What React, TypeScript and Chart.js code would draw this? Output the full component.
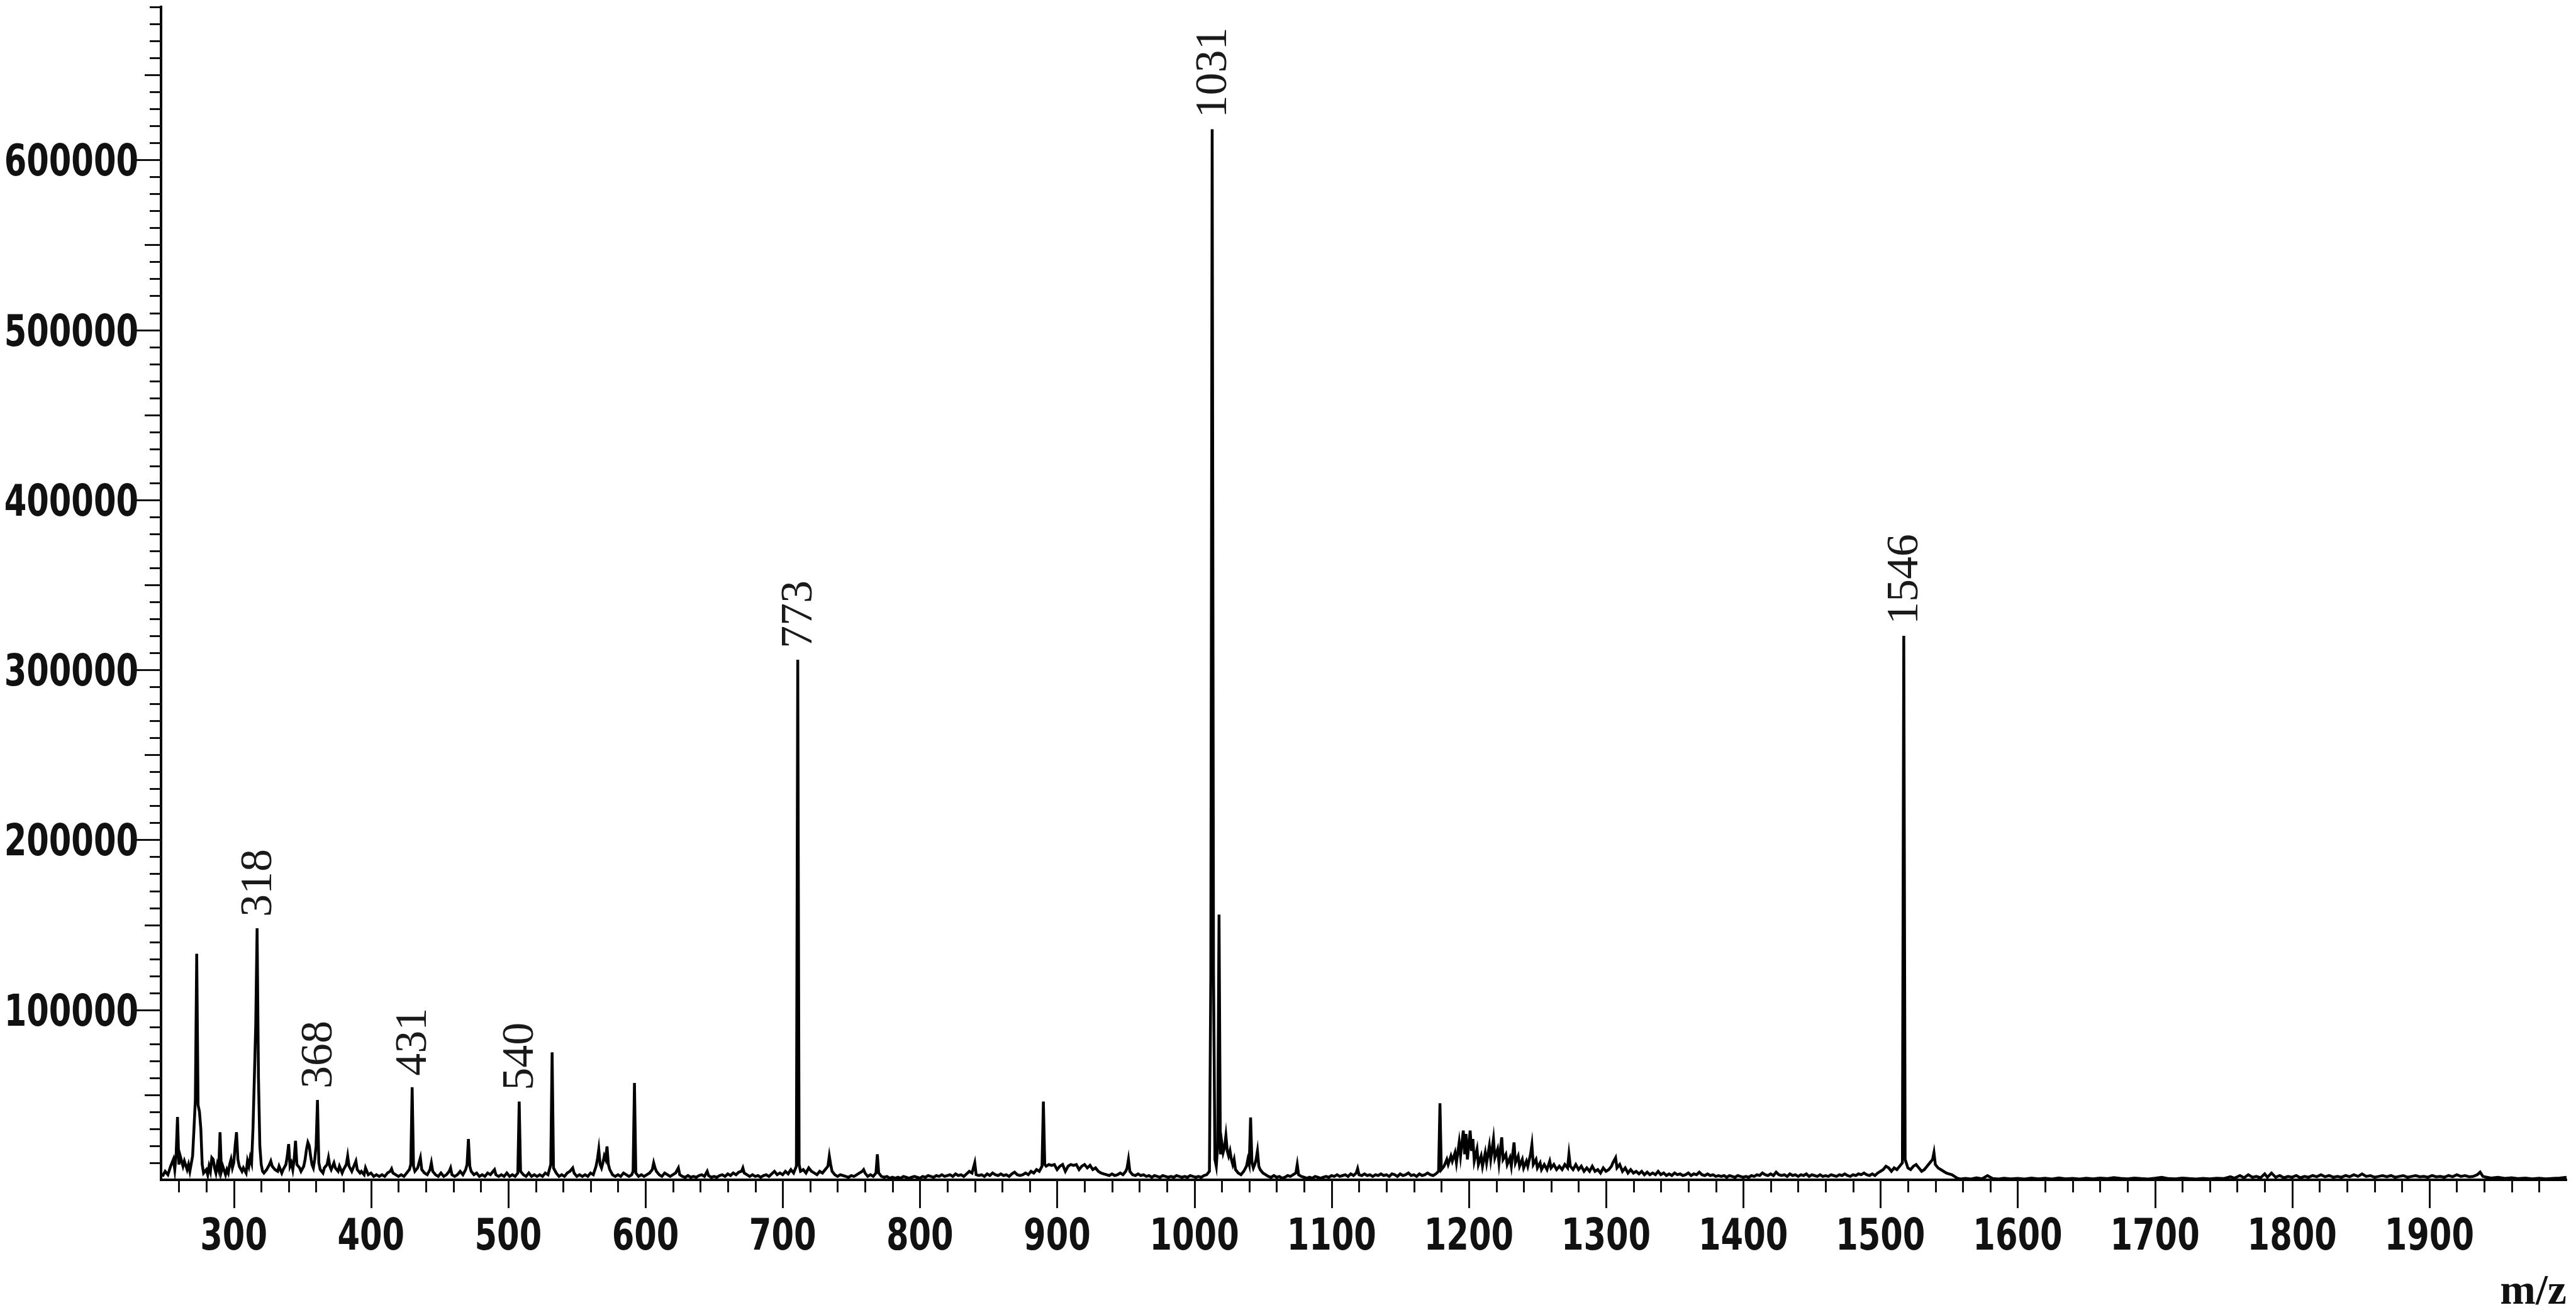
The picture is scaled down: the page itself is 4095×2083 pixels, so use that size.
import React, { useEffect, useRef } from 'react';
import { Chart, registerables } from 'chart.js';

Chart.register(...registerables);

// ---- axis ranges and tick labels ----
const xMin = 247;
const xMax = 2000;
const yMin = 0;
const yMax = 690000;
const xTickValues = [300, 400, 500, 600, 700, 800, 900, 1000, 1100, 1200, 1300, 1400, 1500, 1600, 1700, 1800, 1900];
const yTickValues = [100000, 200000, 300000, 400000, 500000, 600000];
const xMinorStep = 20;
const yMinorStep = 10000;
const axisTitle = 'm/z';

// ---- annotated peaks ----
const peakLabelText = ['318', '368', '431', '540', '773', '1031', '1546'];
const peakLabelMz = [317, 361, 430, 508, 711, 1013, 1517];
const peakLabelIntensity = [148000, 47000, 54500, 46000, 306000, 618000, 320000];

// ---- spectrum (m/z, intensity) ----
const spectrumLow: [number, number][] = [
  [248, 2000], [250, 5000], [252, 3000], [254, 8000], [256, 12000], [257, 6000], [258, 15000], [259, 37000], [260, 9000],
  [261, 14000], [263, 8000], [264, 11000], [266, 6000], [267, 9000], [268, 5000], [270, 14000], [271, 30000], [272, 47000],
  [273, 133000], [274, 44000], [275, 40000], [276, 30000], [277, 9000], [278, 4000], [280, 6000], [281, 3000], [282, 8000],
  [283, 5000], [284, 13000], [285, 12000], [286, 7000], [287, 4000], [288, 9000], [289, 6000], [290, 28000], [291, 5000],
  [292, 8000], [294, 3000], [295, 6000], [296, 4000], [297, 9000], [298, 12000], [299, 7000], [300, 10000], [301, 20000],
  [302, 28000], [303, 12000], [304, 8000], [306, 5000], [307, 7000], [309, 4000], [310, 11000], [311, 8000], [312, 13000],
  [313, 10000], [314, 30000], [315, 60000], [316, 91000], [317, 148000], [318, 60000], [319, 20000], [320, 9000], [321, 5000],
  [322, 4000], [324, 6000], [326, 9000], [327, 11000], [328, 8000], [330, 6000], [332, 5000], [333, 8000], [335, 4000],
  [336, 6000], [338, 9000], [339, 14000], [340, 21000], [341, 8000], [342, 10000], [343, 6000], [344, 12000], [345, 23000],
  [346, 9000], [348, 7000], [349, 5000], [351, 8000], [352, 12000], [353, 18000], [354, 22000], [355, 20000], [356, 14000],
  [357, 9000], [358, 7000], [359, 12000], [360, 20000], [361, 47000], [362, 10000], [363, 6000], [365, 4000], [366, 7000],
  [368, 9000], [369, 13000], [370, 8000], [371, 6000], [373, 10000], [374, 7000], [376, 5000], [377, 8000], [379, 4000],
  [380, 6000], [382, 9000], [383, 14000], [384, 8000], [386, 5000], [387, 7000], [389, 11000], [390, 6000], [392, 4000],
  [393, 5000], [395, 3000], [396, 7000], [398, 3000], [400, 4000], [402, 2000], [404, 3000], [406, 2000], [408, 3000],
  [410, 2000], [412, 4000], [414, 5000], [415, 6500], [416, 4000], [418, 3000], [420, 2000], [422, 3000], [424, 2000],
  [426, 4000], [428, 6000], [429, 9000], [430, 54500], [431, 8000], [432, 5000], [434, 7000], [436, 13000], [437, 6000],
  [439, 4000], [441, 3000], [443, 6000], [444, 10000], [445, 5000], [447, 3000], [449, 2000], [451, 4000], [453, 2000],
  [455, 3000], [457, 5000], [458, 7000], [459, 3000],
];

const spectrumMidLow: [number, number][] = [
  [461, 2000], [463, 3000], [465, 5000], [467, 3000], [469, 6000], [470, 9000], [471, 24000], [472, 8000], [473, 5000],
  [475, 3000], [477, 4000], [479, 2000], [481, 3000], [483, 2000], [485, 4000], [487, 3000], [489, 5000], [490, 6000],
  [491, 3000], [493, 2000], [495, 3000], [497, 2000], [499, 4000], [501, 2000], [503, 3000], [505, 2000], [507, 4000],
  [508, 46000], [509, 5000], [511, 3000], [513, 2000], [515, 4000], [517, 2000], [519, 3000], [521, 2000], [523, 3000],
  [525, 2000], [527, 4000], [529, 3000], [531, 9000], [532, 75000], [533, 7000], [535, 4000], [537, 2000], [539, 3000],
  [541, 2000], [543, 4000], [545, 5000], [547, 7000], [548, 4000], [550, 2000], [552, 3000], [554, 2000], [556, 3000],
  [558, 2000], [560, 4000], [562, 3000], [564, 8000], [565, 12000], [566, 18000], [567, 9000], [568, 7000], [569, 10000],
  [570, 14000], [571, 12000], [572, 19600], [573, 9000], [574, 6000], [576, 3000], [578, 2000], [580, 3000], [582, 2000],
  [584, 4000], [586, 3000], [588, 2000], [590, 3000], [591, 5000], [592, 57000], [593, 4000], [595, 2000], [597, 3000],
  [599, 2000], [601, 3000], [603, 4000], [605, 6000], [606, 10000], [607, 7000], [608, 5000], [610, 3000], [612, 2000],
  [614, 4000], [616, 3000], [618, 2000], [620, 3000], [622, 4000], [624, 7000], [625, 3000], [627, 2000], [629, 1500],
  [631, 2500], [633, 1500], [635, 2000], [637, 1500], [639, 2500], [641, 3000], [643, 2000], [645, 5000], [646, 2500],
  [648, 1500], [650, 2000], [652, 1500], [654, 2500], [656, 3000], [658, 2000], [660, 3500], [662, 2500], [664, 4000],
  [666, 3000], [668, 4500], [670, 5000], [671, 7000], [672, 4000], [674, 3000], [676, 2000], [678, 3000], [680, 2000],
  [682, 2500], [684, 1500], [686, 2500], [688, 3000], [690, 2000], [692, 3500], [694, 5000], [696, 3000], [698, 4000],
  [700, 3000], [702, 5000], [704, 3500], [706, 6000], [708, 4000],
];

const spectrumMid: [number, number][] = [
  [710, 8000], [711, 306000], [712, 9000], [713, 5000], [715, 6000], [717, 4000], [719, 7000], [721, 5000], [723, 4000],
  [725, 3000], [727, 5000], [729, 4000], [731, 6000], [733, 8000], [734, 14000], [735, 9000], [736, 5000], [738, 3000],
  [740, 2000], [742, 3000], [744, 2500], [746, 2000], [748, 1500], [750, 2500], [752, 2000], [754, 3000], [756, 4000],
  [758, 5000], [759, 6000], [760, 4000], [762, 2000], [764, 3000], [766, 2000], [768, 4000], [769, 15000], [770, 4000],
  [772, 2000], [774, 1500], [776, 2000], [778, 1000], [780, 1500], [782, 1000], [784, 1500], [786, 1000], [788, 2000],
  [790, 1500], [792, 1000], [794, 1500], [796, 2000], [798, 1500], [800, 1000], [802, 2000], [804, 1500], [806, 2500],
  [808, 2000], [810, 1500], [812, 2500], [814, 2000], [816, 3000], [818, 2000], [820, 2500], [822, 3000], [824, 2000],
  [826, 3500], [828, 2500], [830, 3000], [832, 2000], [834, 3500], [836, 5000], [838, 4000], [840, 10000], [841, 3000],
  [843, 2500], [845, 3000], [847, 2000], [849, 3500], [851, 2500], [853, 4000], [855, 3000], [857, 2500], [859, 3500],
  [861, 2500], [863, 3000], [865, 2000], [867, 3500], [869, 4500], [871, 3000], [873, 2500], [875, 3000], [877, 4000],
  [879, 3000], [881, 5000], [883, 4000], [885, 6000], [887, 5000], [889, 8000], [890, 46000], [891, 9000], [892, 8000],
  [894, 9000], [896, 8500], [898, 9000], [900, 6000], [902, 8000], [904, 9000], [906, 5000], [908, 8000], [910, 9000],
  [912, 8500], [914, 9000], [916, 6000], [918, 8000], [920, 9000], [922, 7000], [924, 8500], [926, 6000], [928, 7000],
  [930, 5000], [932, 4000], [934, 3500], [936, 3000], [938, 2500], [940, 3500], [942, 2500], [944, 3000], [946, 4000],
  [948, 3000], [950, 5000], [951, 7000], [952, 12000], [953, 5000], [955, 3000], [957, 2500], [959, 3500], [961, 2500],
  [963, 3000], [965, 2000], [967, 2500], [969, 1500], [971, 2500], [973, 2000], [975, 1500], [977, 2500], [979, 2000],
  [981, 1500], [983, 2000], [985, 1500], [987, 2500], [989, 2000], [991, 1500], [993, 2000], [995, 1500], [997, 2500],
  [999, 2000], [1001, 1500], [1003, 2000], [1005, 1500], [1007, 2500], [1009, 3000], [1011, 5000],
];

const spectrumHighMid: [number, number][] = [
  [1012, 120000], [1013, 618000], [1014, 121000], [1015, 12000], [1016, 8000], [1017, 20000], [1018, 156000], [1019, 15000],
  [1020, 22000], [1021, 16000], [1022, 19000], [1023, 26000], [1024, 17000], [1025, 14000], [1026, 17000], [1027, 12000],
  [1028, 9000], [1029, 12000], [1030, 6000], [1032, 4000], [1034, 3000], [1036, 5000], [1038, 8000], [1039, 12000],
  [1040, 9000], [1041, 36700], [1042, 10000], [1043, 7000], [1044, 9000], [1045, 12000], [1046, 17000], [1047, 8000],
  [1048, 6000], [1050, 4000], [1052, 3000], [1054, 2000], [1056, 1500], [1058, 2500], [1060, 1500], [1062, 2000],
  [1064, 1000], [1066, 1500], [1068, 2500], [1070, 2000], [1072, 3000], [1074, 4000], [1075, 9000], [1076, 3000],
  [1078, 2000], [1080, 1500], [1082, 1000], [1084, 1500], [1086, 1000], [1088, 2000], [1090, 1500], [1092, 1000],
  [1094, 1500], [1096, 2000], [1098, 1500], [1100, 2500], [1102, 2000], [1104, 3000], [1106, 2000], [1108, 2500],
  [1110, 3000], [1112, 2000], [1114, 3500], [1116, 2500], [1118, 4000], [1119, 6600], [1120, 3000], [1122, 2500],
  [1124, 3500], [1126, 2500], [1128, 3000], [1130, 2000], [1132, 3000], [1134, 2500], [1136, 3500], [1138, 2500],
  [1140, 3000], [1142, 2000], [1144, 3500], [1146, 3000], [1148, 2000], [1150, 3500], [1152, 2500], [1154, 3000],
  [1156, 4000], [1158, 2500], [1160, 3000], [1162, 2000], [1164, 3500], [1166, 2500], [1168, 3000], [1170, 4000],
  [1172, 3000], [1174, 2500], [1176, 3500], [1178, 5000], [1179, 45000], [1180, 6000], [1182, 8000], [1184, 12000],
  [1185, 9000], [1187, 14000], [1188, 11000], [1190, 16000], [1191, 10000], [1193, 22000], [1194, 14000], [1196, 29000],
  [1197, 15000], [1198, 27000], [1199, 12000], [1201, 29000], [1202, 17000], [1203, 24000], [1204, 11000], [1206, 18000],
  [1207, 9000], [1209, 14000], [1210, 8000], [1212, 16000], [1213, 10000], [1215, 20000], [1216, 12000], [1218, 24000],
  [1219, 13000], [1221, 18000], [1222, 10000], [1224, 25000], [1225, 12000], [1227, 15000], [1228, 9000], [1230, 13000],
  [1231, 8000], [1233, 22000], [1234, 10000], [1236, 14000], [1237, 8000], [1239, 12000], [1240, 7000], [1242, 11000],
  [1243, 8000], [1245, 15000], [1246, 20700], [1247, 9000], [1249, 12000], [1250, 7000], [1252, 10000], [1253, 6000],
  [1255, 9000], [1257, 6000], [1259, 11000], [1260, 7000], [1262, 9000], [1264, 6000], [1266, 8000], [1268, 6000],
  [1270, 9000], [1272, 7000], [1273, 15000], [1274, 8000], [1276, 6000], [1278, 9000], [1280, 6000], [1282, 8000],
  [1284, 5000], [1286, 7000], [1288, 5000], [1290, 8000], [1292, 5000], [1294, 6000], [1296, 4000], [1298, 7000],
  [1300, 5000], [1302, 6000], [1304, 8000], [1305, 10000], [1307, 13000], [1308, 7000], [1310, 9000], [1312, 5000],
  [1314, 7000], [1316, 4000], [1318, 6000], [1320, 4000],
];

const spectrumHigh: [number, number][] = [
  [1322, 5000], [1324, 3500], [1326, 5000], [1328, 3000], [1330, 4500], [1332, 3000], [1334, 4000], [1336, 3000],
  [1338, 5000], [1340, 3000], [1342, 4000], [1344, 2500], [1346, 3500], [1348, 2500], [1350, 4000], [1352, 3000],
  [1354, 3500], [1356, 2500], [1358, 3000], [1360, 4000], [1362, 2500], [1364, 3500], [1366, 3000], [1368, 4500],
  [1370, 3000], [1372, 2500], [1374, 3500], [1376, 2500], [1378, 3000], [1380, 2000], [1382, 2500], [1384, 2000],
  [1386, 2500], [1388, 1500], [1390, 2500], [1392, 2000], [1394, 1500], [1396, 2500], [1398, 2000], [1400, 1500],
  [1402, 2000], [1404, 1500], [1406, 2500], [1408, 2000], [1410, 3000], [1412, 2500], [1414, 4000], [1416, 3000],
  [1418, 2500], [1420, 3500], [1422, 2500], [1424, 4500], [1426, 3000], [1428, 2500], [1430, 3000], [1432, 2000],
  [1434, 3500], [1436, 2500], [1438, 3000], [1440, 2000], [1442, 3000], [1444, 2500], [1446, 3500], [1448, 2000],
  [1450, 3000], [1452, 2500], [1454, 2000], [1456, 3000], [1458, 2000], [1460, 2500], [1462, 2000], [1464, 3000],
  [1466, 2500], [1468, 2000], [1470, 3000], [1472, 2500], [1474, 3500], [1476, 2500], [1478, 2000], [1480, 3000],
  [1482, 2500], [1484, 3500], [1486, 3000], [1488, 4000], [1490, 3000], [1492, 2500], [1494, 3500], [1496, 2500],
  [1498, 4000], [1500, 5000], [1502, 6000], [1504, 8000], [1506, 7000], [1508, 5000], [1510, 7000], [1512, 6000],
  [1514, 8000], [1516, 10000], [1517, 320000], [1518, 12000], [1520, 7000], [1522, 6000], [1524, 8000], [1526, 9000],
  [1528, 7000], [1530, 5000], [1532, 6000], [1534, 8000], [1536, 10000], [1538, 12000], [1539, 16000], [1540, 9000],
  [1542, 7000], [1544, 6000], [1546, 5000], [1548, 4000], [1550, 3500], [1552, 3000], [1554, 2000], [1556, 1000],
  [1558, 500], [1562, 800], [1566, 500], [1570, 1200], [1574, 600], [1578, 2500], [1582, 700], [1586, 500], [1590, 900],
  [1595, 600], [1600, 800], [1605, 500], [1610, 1000], [1615, 600], [1620, 900], [1625, 500], [1630, 1100], [1635, 600],
  [1640, 800], [1645, 500], [1650, 900], [1655, 600], [1660, 1000], [1665, 700], [1670, 1300], [1675, 800], [1680, 600],
  [1685, 1000], [1690, 700], [1695, 500], [1700, 900], [1705, 1500], [1710, 700], [1715, 600], [1720, 1000], [1725, 700],
  [1730, 500], [1735, 800], [1740, 600], [1745, 900], [1750, 700], [1755, 1800], [1758, 1000], [1762, 2500], [1765, 1200],
  [1768, 3000], [1771, 1500], [1774, 2000], [1777, 1200], [1780, 3500], [1782, 1500], [1785, 4000], [1788, 1500],
  [1791, 2500], [1794, 1200], [1797, 2000], [1800, 1500], [1803, 2500], [1806, 1200], [1809, 2000], [1812, 1500],
  [1815, 2500], [1818, 1800], [1821, 3000], [1824, 1800], [1827, 2500], [1830, 1500], [1833, 2000], [1836, 1500],
  [1839, 2500], [1842, 1800], [1845, 3000], [1848, 2000], [1851, 3500], [1854, 2000], [1857, 2500], [1860, 1500],
  [1863, 2000], [1866, 2500], [1869, 1800], [1872, 2500], [1875, 1500], [1878, 2000], [1881, 2500], [1884, 1500],
  [1887, 2000], [1890, 2500], [1893, 1800], [1896, 2000], [1899, 1500], [1902, 2500], [1905, 1800], [1908, 2000],
  [1911, 1500], [1914, 2500], [1917, 1800], [1920, 3000], [1923, 2000], [1926, 2500], [1929, 1800], [1932, 2000],
  [1935, 3000], [1937, 4500], [1939, 2000], [1942, 1500], [1945, 1000], [1950, 1500], [1955, 800], [1960, 1200],
  [1965, 700], [1970, 1000], [1975, 600], [1980, 900], [1985, 600], [1990, 800], [1995, 1000], [2000, 1500],
];

const tickFontFamily = '"DejaVu Sans", Verdana, sans-serif';
const tickFontSize = 70;
const tickSquash = 0.73;
const serifFont = '"Liberation Serif", "Times New Roman", serif';

const axisDecor = {
  id: 'axisDecor',
  afterDraw(chart: any) {
    const ctx = chart.ctx as CanvasRenderingContext2D;
    const xs = chart.scales.x;
    const ys = chart.scales.y;
    const area = chart.chartArea;
    ctx.save();
    // tick marks
    ctx.strokeStyle = '#111';
    ctx.lineWidth = 3;
    ctx.beginPath();
    for (let v = Math.ceil(xMin / xMinorStep) * xMinorStep; v < xMax; v += xMinorStep) {
      const px = Math.round(xs.getPixelForValue(v)) + 0.5;
      const len = v % 100 === 0 ? 45 : 20;
      ctx.moveTo(px, area.bottom);
      ctx.lineTo(px, area.bottom + len);
    }
    for (let v = yMinorStep; v <= yMax; v += yMinorStep) {
      const py = Math.round(ys.getPixelForValue(v)) + 0.5;
      const len = v % 100000 === 0 ? 39 : v % 50000 === 0 ? 26 : 18;
      ctx.moveTo(area.left, py);
      ctx.lineTo(area.left - len, py);
    }
    ctx.stroke();

    // tick labels (condensed sans, as in the original figure)
    ctx.fillStyle = '#111';
    ctx.font = `bold ${tickFontSize}px ${tickFontFamily}`;
    ctx.textBaseline = 'alphabetic';
    ctx.textAlign = 'center';
    xs.ticks.forEach((t: any) => {
      const px = xs.getPixelForValue(t.value);
      ctx.save();
      ctx.translate(px, area.bottom + 111);
      ctx.scale(tickSquash, 1);
      ctx.fillText(String(t.value), 0, 0);
      ctx.restore();
    });
    ctx.textAlign = 'right';
    ys.ticks.forEach((t: any) => {
      const py = ys.getPixelForValue(t.value);
      ctx.save();
      ctx.translate(area.left - 36, py + 25);
      ctx.scale(tickSquash, 1);
      ctx.fillText(String(t.value), 0, 0);
      ctx.restore();
    });

    // peak annotations (rotated)
    ctx.fillStyle = '#1a1a1a';
    ctx.font = `72px ${serifFont}`;
    ctx.textAlign = 'left';
    ctx.textBaseline = 'middle';
    peakLabelText.forEach((t, i) => {
      const px = xs.getPixelForValue(peakLabelMz[i]);
      const py = ys.getPixelForValue(peakLabelIntensity[i]);
      ctx.save();
      ctx.translate(px + 3, py - 18);
      ctx.rotate(-Math.PI / 2);
      ctx.fillText(t, 0, 0);
      ctx.restore();
    });

    // axis title
    ctx.font = `bold 68px ${serifFont}`;
    ctx.fillStyle = '#111';
    ctx.textAlign = 'right';
    ctx.textBaseline = 'alphabetic';
    ctx.fillText(axisTitle, area.right, 2073);
    ctx.restore();
  },
};

export default function App() {
  const canvasRef = useRef<HTMLCanvasElement | null>(null);

  useEffect(() => {
    if (!canvasRef.current) return;
    const points = [...spectrumLow, ...spectrumMidLow, ...spectrumMid, ...spectrumHighMid, ...spectrumHigh].map(
      ([x, y]) => ({ x, y })
    );
    const chart = new Chart(canvasRef.current, {
      type: 'line',
      data: {
        datasets: [
          {
            data: points,
            borderColor: '#000',
            borderWidth: 4.5,
            pointRadius: 0,
            tension: 0,
            fill: false,
          },
        ],
      },
      options: {
        animation: false,
        responsive: false,
        maintainAspectRatio: false,
        events: [],
        layout: { padding: { top: 11, right: 15, left: 0, bottom: 0 } },
        plugins: { legend: { display: false }, tooltip: { enabled: false }, title: { display: false } },
        scales: {
          x: {
            type: 'linear',
            min: xMin,
            max: xMax,
            afterFit: (s: any) => {
              s.height = 207;
              s.paddingLeft = 0;
              s.paddingRight = 0;
              s.paddingTop = 0;
              s.paddingBottom = 0;
            },
            afterBuildTicks: (s: any) => {
              s.ticks = xTickValues.map((v) => ({ value: v }));
            },
            grid: { display: false, drawTicks: false },
            border: { display: true, color: '#000', width: 4 },
            ticks: { display: false, autoSkip: false },
          },
          y: {
            type: 'linear',
            min: yMin,
            max: yMax,
            afterFit: (s: any) => {
              s.width = 256;
              s.paddingLeft = 0;
              s.paddingRight = 0;
              s.paddingTop = 0;
              s.paddingBottom = 0;
            },
            afterBuildTicks: (s: any) => {
              s.ticks = yTickValues.map((v) => ({ value: v }));
            },
            grid: { display: false, drawTicks: false },
            border: { display: true, color: '#000', width: 4 },
            ticks: { display: false, autoSkip: false },
          },
        },
      },
      plugins: [axisDecor],
    });
    return () => chart.destroy();
  }, []);

  return (
    <div style={{ position: 'absolute', left: 0, top: 0, width: 4095, height: 2083, background: '#fff' }}>
      <canvas ref={canvasRef} width={4095} height={2083} style={{ display: 'block', width: 4095, height: 2083 }} />
    </div>
  );
}
